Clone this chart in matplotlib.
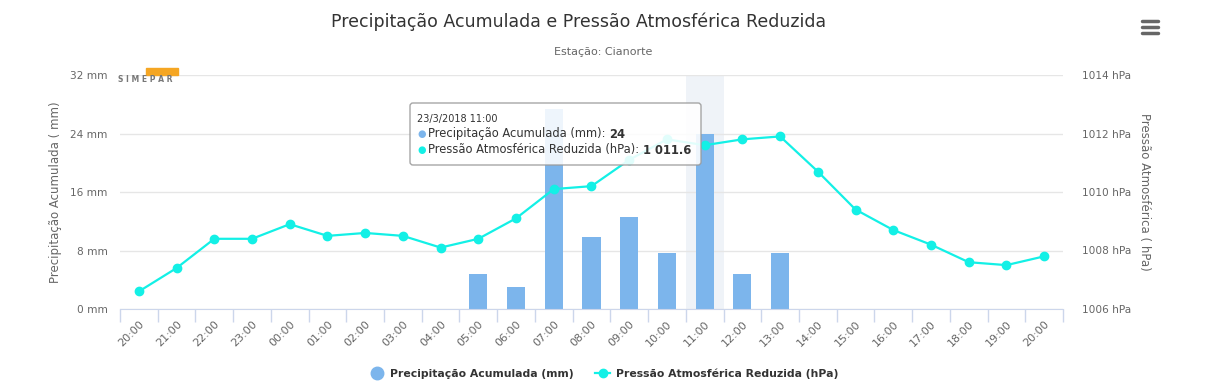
import matplotlib
matplotlib.use("Agg")
import matplotlib.pyplot as plt
from matplotlib.lines import Line2D
from matplotlib.patches import FancyBboxPatch, Rectangle

hours = ["20:00", "21:00", "22:00", "23:00", "00:00", "01:00", "02:00", "03:00",
         "04:00", "05:00", "06:00", "07:00", "08:00", "09:00", "10:00", "11:00",
         "12:00", "13:00", "14:00", "15:00", "16:00", "17:00", "18:00", "19:00", "20:00"]
precip_mm = [0, 0, 0, 0, 0, 0, 0, 0, 0, 4.8, 3.0, 27.4, 9.8, 12.6, 7.6, 24.0,
             4.8, 7.6, 0, 0, 0, 0, 0, 0, 0]
pressure_hpa = [1006.6, 1007.4, 1008.4, 1008.4, 1008.9, 1008.5, 1008.6, 1008.5,
                1008.1, 1008.4, 1009.1, 1010.1, 1010.2, 1011.1, 1011.8, 1011.6,
                1011.8, 1011.9, 1010.7, 1009.4, 1008.7, 1008.2, 1007.6, 1007.5, 1007.8]
mm_ticks = [0, 8, 16, 24, 32]
hpa_ticks = [1006, 1008, 1010, 1012, 1014]
hover = 15  # 11:00

BAR = "#7cb5ec"
LINE = "#13f0e6"
GREY = "#666666"

W, H = 1207, 391
fig = plt.figure(figsize=(W / 100, H / 100), dpi=100)
ax = fig.add_axes([120 / W, 1 - 309 / H, 943 / W, 234 / H])
ax2 = ax.twinx()

x = list(range(len(hours)))
ax.axvspan(hover - 0.5, hover + 0.5, color="#e9eef6", alpha=0.7, zorder=0, lw=0)
ax.bar(x, precip_mm, width=0.48, color=BAR, zorder=2)
ax2.plot(x, pressure_hpa, color=LINE, lw=1.6, marker="o", ms=6, zorder=3)

ax.set_xlim(-0.5, len(hours) - 0.5)
ax.set_ylim(0, 32)
ax2.set_ylim(1006, 1014)
ax.set_yticks(mm_ticks, [f"{v} mm" for v in mm_ticks])
ax2.set_yticks(hpa_ticks, [f"{v} hPa" for v in hpa_ticks])
ax.set_xticks(x, hours, rotation=45, ha="right", rotation_mode="anchor")
ax.set_xticks([i - 0.5 for i in range(len(hours) + 1)], minor=True)
ax.tick_params(axis="x", which="major", length=0, pad=7, labelsize=8, labelcolor=GREY)
ax.tick_params(axis="x", which="minor", length=9, color="#ccd6eb", width=1)
ax.tick_params(axis="y", length=0, pad=9, labelsize=7.6, labelcolor=GREY)
ax2.tick_params(axis="y", length=0, pad=14, labelsize=7.6, labelcolor=GREY)

ax.grid(axis="y", color="#e6e6e6", lw=1, zorder=1)
ax.set_axisbelow(True)
for a in (ax, ax2):
    for s in a.spines.values():
        s.set_visible(False)
ax.spines["bottom"].set_visible(True)
ax.spines["bottom"].set_color("#ccd6eb")

ax.set_ylabel("Precipitação Acumulada ( mm)", fontsize=8.5, color=GREY, labelpad=6)
ax2.set_ylabel("Pressão Atmosférica ( hPa)", fontsize=8.5, color=GREY,
               rotation=270, labelpad=14)

fig.text(579 / W, 1 - 22 / H, "Precipitação Acumulada e Pressão Atmosférica Reduzida",
         ha="center", va="center", fontsize=12.5, color="#333333")
fig.text(0.5, 1 - 52 / H, "Estação: Cianorte", ha="center", va="center",
         fontsize=8, color=GREY)

# overlay for logo, menu icon and tooltip (pixel coords, y down)
ov = fig.add_axes([0, 0, 1, 1], zorder=10)
ov.set_xlim(0, W)
ov.set_ylim(H, 0)
ov.axis("off")

ov.add_patch(Rectangle((146, 68), 32, 7, color="#f5a623"))
ov.text(145, 80, "S I M E P A R", ha="center", va="center", fontsize=5.5,
        color="#777777", fontweight="bold")

for yy in (21, 27, 33):
    ov.plot([1142, 1158], [yy, yy], color=GREY, lw=2.5, solid_capstyle="round")

ov.add_patch(FancyBboxPatch((410, 103), 291, 62, boxstyle="round,pad=0,rounding_size=3",
                            facecolor="white", alpha=0.88, edgecolor="#9a9a9a", lw=1))
ov.text(417, 119, "23/3/2018 11:00", fontsize=7, color="#333333", va="center")
rows = [(BAR, "Precipitação Acumulada (mm): ", f"{precip_mm[hover]:.0f}", 134),
        (LINE, "Pressão Atmosférica Reduzida (hPa): ",
         f"{pressure_hpa[hover]:,.1f}".replace(",", " "), 150)]
for col, lab, val, yy in rows:
    b = ov.text(417, yy, "●", fontsize=7, color=col, va="center")
    t = ov.annotate(lab, xy=(1, 0.5), xycoords=b, xytext=(2, 0), textcoords="offset points",
                    va="center", fontsize=8.3, color="#333333")
    ov.annotate(val, xy=(1, 0.5), xycoords=t, va="center", fontsize=8.3,
                fontweight="bold", color="#333333")

handles = [Line2D([], [], ls="none", marker="o", ms=9, color=BAR),
           Line2D([], [], color=LINE, lw=1.6, marker="o", ms=6)]
fig.legend(handles, ["Precipitação Acumulada (mm)", "Pressão Atmosférica Reduzida (hPa)"],
           loc="center", bbox_to_anchor=(0.5, 1 - 374 / H), ncol=2, frameon=False,
           prop={"weight": "bold", "size": 7.8}, labelcolor="#333333",
           handlelength=1.4, columnspacing=2, handletextpad=0.5)

fig.savefig("out.png", dpi=100, facecolor="white")
